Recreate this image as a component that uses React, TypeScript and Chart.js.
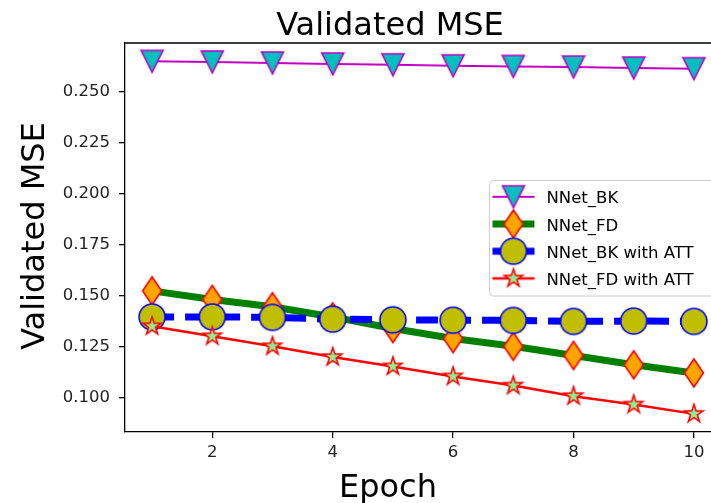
import React, { useEffect, useRef } from 'react';
import { Chart, registerables } from 'chart.js';

Chart.register(...registerables);

// ---- data ----
const EPOCHS = [1, 2, 3, 4, 5, 6, 7, 8, 9, 10];
const NNET_BK = [0.2651, 0.2648, 0.2643, 0.2638, 0.2634, 0.2629, 0.2626, 0.2623, 0.2618, 0.2615];
const NNET_FD = [0.1524, 0.1482, 0.1446, 0.1396, 0.1339, 0.129, 0.1252, 0.1207, 0.1161, 0.1121];
const NNET_BK_ATT = [0.1396, 0.1396, 0.1394, 0.1385, 0.1382, 0.138, 0.1379, 0.1374, 0.1376, 0.1374];
const NNET_FD_ATT = [0.135, 0.1301, 0.1252, 0.1199, 0.1153, 0.1104, 0.1059, 0.1007, 0.0966, 0.092];
const SERIES_LABELS = ['NNet_BK', 'NNet_FD', 'NNet_BK with ATT', 'NNet_FD with ATT'];
const X_TICKS = [2, 4, 6, 8, 10];
const Y_TICKS = [0.1, 0.125, 0.15, 0.175, 0.2, 0.225, 0.25];
const TITLE = 'Validated MSE';
const X_LABEL = 'Epoch';
const Y_LABEL = 'Validated MSE';

const FONT = "'DejaVu Sans', 'Liberation Sans', sans-serif";

// ---- marker drawing helpers ----
type MarkerKind = 'tri' | 'diamond' | 'circle' | 'star';

function pathMarker(ctx: CanvasRenderingContext2D, kind: MarkerKind, cx: number, cy: number) {
  ctx.beginPath();
  if (kind === 'tri') {
    const s = 11;
    ctx.moveTo(cx - s, cy - s);
    ctx.lineTo(cx + s, cy - s);
    ctx.lineTo(cx, cy + s);
    ctx.closePath();
  } else if (kind === 'diamond') {
    const w = 9.5, h = 14;
    ctx.moveTo(cx, cy - h);
    ctx.lineTo(cx + w, cy);
    ctx.lineTo(cx, cy + h);
    ctx.lineTo(cx - w, cy);
    ctx.closePath();
  } else if (kind === 'circle') {
    ctx.arc(cx, cy, 13, 0, Math.PI * 2);
  } else {
    const R = 9.5, r = R * 0.382;
    for (let i = 0; i < 10; i++) {
      const rad = i % 2 === 0 ? R : r;
      const a = -Math.PI / 2 + (i * Math.PI) / 5;
      const px = cx + rad * Math.cos(a);
      const py = cy + rad * Math.sin(a);
      if (i === 0) ctx.moveTo(px, py);
      else ctx.lineTo(px, py);
    }
    ctx.closePath();
  }
}

interface Style {
  kind: MarkerKind;
  fill: string;
  edge: string;
  line: string;
  lw: number;
  dash: number[];
}

const STYLES: Style[] = [
  { kind: 'tri', fill: '#00bfbf', edge: '#bf00bf', line: '#bf00bf', lw: 2, dash: [] },
  { kind: 'diamond', fill: '#ffa500', edge: '#ff0000', line: '#008000', lw: 7, dash: [] },
  { kind: 'circle', fill: '#bfbf00', edge: '#0000ff', line: '#0000ff', lw: 7, dash: [22, 11] },
  { kind: 'star', fill: '#90ee90', edge: '#ff0000', line: '#ff0000', lw: 2.5, dash: [] },
];

function makeMarker(st: Style): HTMLCanvasElement {
  const c = document.createElement('canvas');
  c.width = 34;
  c.height = 34;
  const ctx = c.getContext('2d')!;
  pathMarker(ctx, st.kind, 17, 17);
  ctx.fillStyle = st.fill;
  ctx.fill();
  ctx.lineWidth = 1.6;
  ctx.lineJoin = 'miter';
  ctx.strokeStyle = st.edge;
  ctx.stroke();
  return c;
}

function makeHandle(st: Style, marker: HTMLCanvasElement): HTMLCanvasElement {
  const c = document.createElement('canvas');
  c.width = 44;
  c.height = 34;
  const ctx = c.getContext('2d')!;
  ctx.beginPath();
  ctx.moveTo(1, 17);
  ctx.lineTo(43, 17);
  ctx.strokeStyle = st.line;
  ctx.lineWidth = st.lw;
  ctx.setLineDash(st.dash);
  ctx.stroke();
  ctx.setLineDash([]);
  ctx.drawImage(marker, 22 - 17, 0);
  return c;
}

export default function App() {
  const ref = useRef<HTMLCanvasElement>(null);

  useEffect(() => {
    const canvas = ref.current;
    if (!canvas) return;
    const markers = STYLES.map(makeMarker);
    const handles = STYLES.map((s, i) => makeHandle(s, markers[i]));
    const seriesValues = [NNET_BK, NNET_FD, NNET_BK_ATT, NNET_FD_ATT];

    const decor = {
      id: 'decor',
      afterDraw(chart: any) {
        const ctx: CanvasRenderingContext2D = chart.ctx;
        const a = chart.chartArea;
        ctx.save();
        // spines top/right
        ctx.strokeStyle = '#000';
        ctx.lineWidth = 1.3;
        ctx.beginPath();
        ctx.moveTo(a.left, a.top);
        ctx.lineTo(a.right, a.top);
        ctx.lineTo(a.right, a.bottom);
        ctx.stroke();

        // legend
        const lx = 489.5, ly = 180.5, lw = 260, lh = 115.5;
        ctx.beginPath();
        ctx.roundRect(lx, ly, lw, lh, 4);
        ctx.fillStyle = 'rgba(255,255,255,0.8)';
        ctx.fill();
        ctx.strokeStyle = '#cccccc';
        ctx.lineWidth = 1;
        ctx.stroke();
        ctx.font = `16.5px ${FONT}`;
        ctx.fillStyle = '#000';
        ctx.textAlign = 'left';
        ctx.textBaseline = 'alphabetic';
        SERIES_LABELS.forEach((lab, i) => {
          const base = 203.3 + i * 27.2;
          const cy = base - 6.5;
          ctx.drawImage(handles[i], 491.5, cy - 17);
          ctx.fillText(lab, 546.5, base);
        });

        // titles
        ctx.font = `32px ${FONT}`;
        ctx.textAlign = 'center';
        ctx.fillText(TITLE, 390, 35);
        ctx.fillText(X_LABEL, 388, 496.5);
        ctx.translate(43.5, 236);
        ctx.rotate(-Math.PI / 2);
        ctx.fillText(Y_LABEL, 0, 0);
        ctx.restore();
      },
    };

    const chart = new Chart(canvas, {
      type: 'line',
      data: {
        datasets: SERIES_LABELS.map((label, i) => ({
          label,
          data: EPOCHS.map((x, j) => ({ x, y: seriesValues[i][j] })),
          borderColor: STYLES[i].line,
          backgroundColor: STYLES[i].fill,
          borderWidth: STYLES[i].lw,
          borderDash: STYLES[i].dash,
          borderJoinStyle: 'round' as const,
          pointStyle: markers[i],
          pointRadius: 5,
          fill: false,
          tension: 0,
          order: 3 - i,
          clip: false as any,
        })),
      },
      options: {
        animation: false,
        responsive: false,
        devicePixelRatio: 1,
        events: [],
        layout: { padding: { left: 0, right: 19, top: 43, bottom: 0 } },
        plugins: {
          legend: { display: false },
          title: { display: false },
          tooltip: { enabled: false },
        },
        scales: {
          x: {
            type: 'linear',
            min: 0.55,
            max: 10.45,
            afterBuildTicks: (scale: any) => {
              scale.ticks = X_TICKS.map((v) => ({ value: v }));
            },
            afterFit: (scale: any) => {
              scale.height = 71;
            },
            ticks: {
              font: { family: FONT, size: 16.5 },
              color: '#222',
              padding: 5,
              maxRotation: 0,
              autoSkip: false,
              callback: (v: any) => String(v),
            },
            grid: { drawOnChartArea: false, drawTicks: true, tickLength: 6, color: '#000', lineWidth: 1.3 },
            border: { display: true, color: '#000', width: 1.3 },
          },
          y: {
            type: 'linear',
            min: 0.0831,
            max: 0.2741,
            afterBuildTicks: (scale: any) => {
              scale.ticks = Y_TICKS.map((v) => ({ value: v }));
            },
            afterFit: (scale: any) => {
              scale.width = 125;
            },
            ticks: {
              font: { family: FONT, size: 16.5 },
              color: '#222',
              padding: 9,
              autoSkip: false,
              callback: (v: any) => Number(v).toFixed(3),
            },
            grid: { drawOnChartArea: false, drawTicks: true, tickLength: 6, color: '#000', lineWidth: 1.3 },
            border: { display: true, color: '#000', width: 1.3 },
          },
        },
      },
      plugins: [decor],
    });
    return () => chart.destroy();
  }, []);

  return (
    <div
      style={{
        position: 'fixed',
        left: 0,
        top: 0,
        width: 711,
        height: 503,
        overflow: 'hidden',
        background: '#fff',
      }}
    >
      <canvas ref={ref} width={740} height={503} style={{ display: 'block', width: 740, height: 503 }} />
    </div>
  );
}
